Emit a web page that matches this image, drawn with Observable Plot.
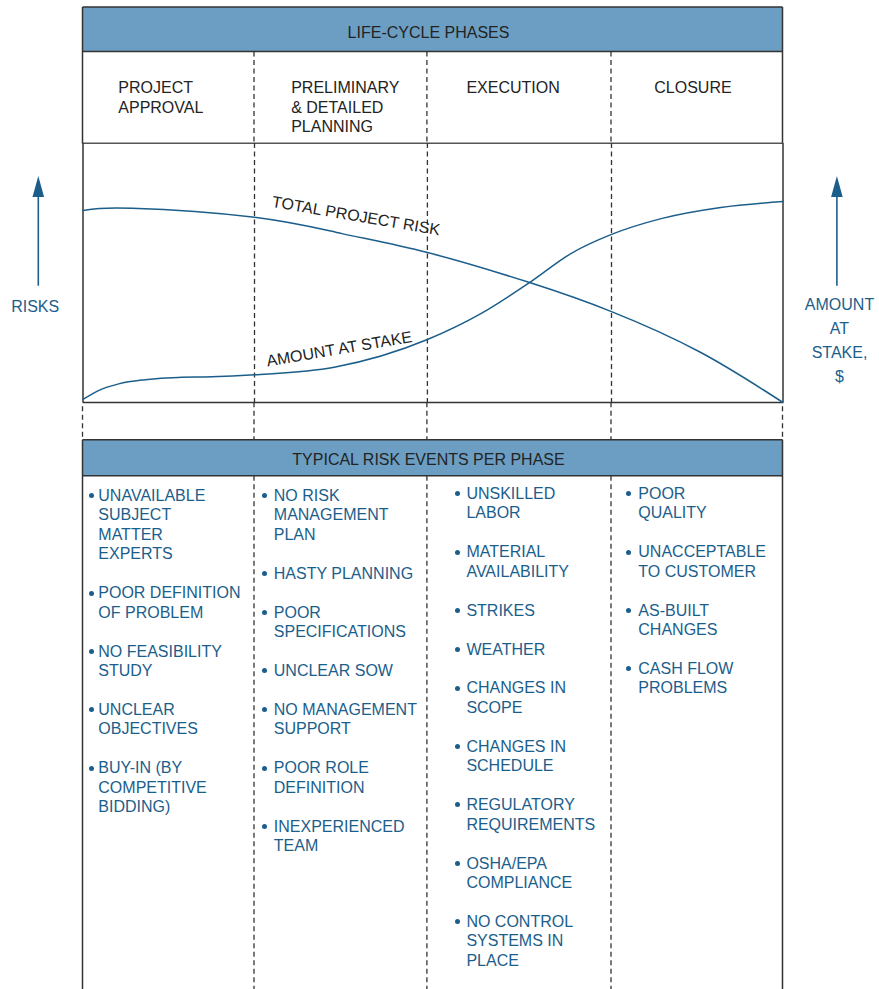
<!DOCTYPE html>
<html><head><meta charset="utf-8">
<script src="https://cdn.jsdelivr.net/npm/d3@7"></script>
<script src="https://cdn.jsdelivr.net/npm/@observablehq/plot@0.6"></script>
<style>
body{margin:0;background:#fff;}
#fig{position:relative;width:879px;height:989px;overflow:hidden;font-family:"Liberation Sans",Arial,sans-serif;}
.t{position:absolute;white-space:pre;font-size:16px;}
</style></head><body><div id="fig"></div>
<script>
// ---------- data ----------
const headerTitle = "LIFE-CYCLE PHASES";
const eventsTitle = "TYPICAL RISK EVENTS PER PHASE";
const phaseNames = ["PROJECT\nAPPROVAL", "PRELIMINARY\n& DETAILED\nPLANNING", "EXECUTION", "CLOSURE"];
const phaseBounds = [0, 24.5, 49.2, 75.5, 100]; // % of project life

const riskProgress = [0, 7, 24.5, 37, 49.2, 63.8, 75.5, 88.2, 100];
const totalRisk    = [74.1, 75.0, 71.5, 65.2, 57.9, 46.3, 35.1, 19.4, 0];
const stakeProgress = [0, 2.2, 5.1, 8.9, 13.6, 18.4, 24.5, 35.9, 49.2, 56.9, 63.8, 69.7, 75.5, 82.6, 91.1, 100];
const amountAtStake = [1.2, 4.6, 7.2, 8.8, 9.7, 9.9, 10.7, 13.6, 24.3, 34.4, 46.3, 57.5, 64.9, 71.0, 75.3, 77.6];

const curveLabelText = ["TOTAL PROJECT RISK", "AMOUNT AT STAKE"];
const curveLabelX = [39, 36.6];
const curveLabelY = [72.0, 20.6];

const leftAxisLabel = "RISKS";
const rightAxisLabel = "AMOUNT\nAT\nSTAKE,\n$";

const approvalEvents = ["UNAVAILABLE\nSUBJECT\nMATTER\nEXPERTS", "POOR DEFINITION\nOF PROBLEM", "NO FEASIBILITY\nSTUDY", "UNCLEAR\nOBJECTIVES", "BUY-IN (BY\nCOMPETITIVE\nBIDDING)"];
const planningEvents = ["NO RISK\nMANAGEMENT\nPLAN", "HASTY PLANNING", "POOR\nSPECIFICATIONS", "UNCLEAR SOW", "NO MANAGEMENT\nSUPPORT", "POOR ROLE\nDEFINITION", "INEXPERIENCED\nTEAM"];
const executionEvents = ["UNSKILLED\nLABOR", "MATERIAL\nAVAILABILITY", "STRIKES", "WEATHER", "CHANGES IN\nSCOPE", "CHANGES IN\nSCHEDULE", "REGULATORY\nREQUIREMENTS", "OSHA/EPA\nCOMPLIANCE", "NO CONTROL\nSYSTEMS IN\nPLACE"];
const closureEvents = ["POOR\nQUALITY", "UNACCEPTABLE\nTO CUSTOMER", "AS-BUILT\nCHANGES", "CASH FLOW\nPROBLEMS"];
const phaseEvents = [approvalEvents, planningEvents, executionEvents, closureEvents];

// ---------- layout / style ----------
const FONT = '"Liberation Sans", Arial, sans-serif';
const BAND = "#6b9ec2", LINE = "#333", BLUE = "#1b5e8b", DARK = "#232323";
const X0 = 82.5, W = 700;
const px = p => X0 + W * p / 100;
const yTop = 7, yBand1 = 51.5, yPhase = 143.3, yCurve = 402.3, yB2a = 439.7, yB2b = 475.7, yEnd = 989;
const titleInset = [35.8, 37.2, 39.5, 43.3];
const listInset = [15.8, 19.8, 39.5, 27.3];
const bulletGap = [7.3, 9.3, 9.4, 10];
const listTop = [486, 486, 484, 484];
const LH = 19.45;

const fig = document.getElementById("fig");

// background structure
const svg = d3.select(fig).append("svg").attr("width", 879).attr("height", 989)
  .style("position", "absolute").style("left", 0).style("top", 0);
svg.append("rect").attr("x", X0).attr("y", yTop).attr("width", W).attr("height", yBand1 - yTop).attr("fill", BAND);
svg.append("rect").attr("x", X0).attr("y", yB2a).attr("width", W).attr("height", yB2b - yB2a).attr("fill", BAND);
function hline(y, c = LINE, w = 1.5) {
  svg.append("line").attr("x1", X0).attr("x2", X0 + W).attr("y1", y).attr("y2", y).attr("stroke", c).attr("stroke-width", w);
}
function vline(x, y1, y2, dashed) {
  const l = svg.append("line").attr("x1", x).attr("x2", x).attr("y1", y1).attr("y2", y2).attr("stroke", LINE)
    .attr("stroke-width", dashed ? 1.3 : 1.5);
  if (dashed) l.attr("stroke-dasharray", "5,3.5");
}
hline(yTop); hline(yBand1); hline(yPhase, "#555"); hline(yB2a); hline(yB2b);
phaseBounds.forEach((b, i) => {
  const x = px(b);
  if (i === 0 || i === phaseBounds.length - 1) {
    vline(x, yTop, yPhase, false);
    vline(x, yCurve + 4, yB2a, true);
    vline(x, yB2a, yEnd, false);
  } else {
    vline(x, yBand1, yPhase, true);
    vline(x, yCurve, yB2a, true);
    vline(x, yB2b, yEnd, true);
  }
});
// arrows
[[38.3, 176, 285.7], [836.9, 176, 285.7]].forEach(([x, tip, bot]) => {
  svg.append("line").attr("x1", x).attr("x2", x).attr("y1", tip + 15).attr("y2", bot).attr("stroke", BLUE).attr("stroke-width", 1.6);
  svg.append("path").attr("d", `M${x},${tip} L${x - 5.8},${tip + 21} L${x + 5.8},${tip + 21} Z`).attr("fill", BLUE);
});

// curves with Plot
const riskData = riskProgress.map((x, i) => ({x, y: totalRisk[i]}));
const stakeData = stakeProgress.map((x, i) => ({x, y: amountAtStake[i]}));
const labels = curveLabelText.map((text, i) => ({text, x: curveLabelX[i], y: curveLabelY[i]}));
const labelRotate = [9.7, -9.6];
const chart = Plot.plot({
  width: 879, height: yCurve - yPhase,
  marginLeft: X0, marginRight: 879 - X0 - W, marginTop: 0, marginBottom: 0,
  x: {domain: [0, 100], axis: null},
  y: {domain: [0, 100], axis: null},
  style: {background: "transparent", overflow: "visible", fontFamily: FONT},
  marks: [
    Plot.ruleX(phaseBounds.slice(1, -1), {stroke: LINE, strokeWidth: 1.3, strokeDasharray: "5,3.5"}),
    Plot.ruleX([phaseBounds[0], phaseBounds[phaseBounds.length - 1]], {stroke: LINE, strokeWidth: 1.5}),
    Plot.ruleY([0], {stroke: LINE, strokeWidth: 1.5}),
    Plot.line(riskData, {x: "x", y: "y", curve: "natural", stroke: BLUE, strokeWidth: 1.5}),
    Plot.line(stakeData, {x: "x", y: "y", curve: "monotone-x", stroke: BLUE, strokeWidth: 1.5}),
    Plot.text(labels, {x: "x", y: "y", text: "text", rotate: (d, i) => labelRotate[i], fontSize: 16, fill: DARK})
  ]
});
chart.style.position = "absolute"; chart.style.left = "0px"; chart.style.top = yPhase + "px";
fig.appendChild(chart);

// texts
function addText(txt, left, top, {lh = 19.5, color = DARK, center = false} = {}) {
  const d = document.createElement("div");
  d.className = "t"; d.textContent = txt;
  d.style.left = left + "px"; d.style.top = top + "px"; d.style.lineHeight = lh + "px"; d.style.color = color;
  if (center) { d.style.transform = "translateX(-50%)"; d.style.textAlign = "center"; }
  fig.appendChild(d); return d;
}
addText(headerTitle, 428.5, 23.2, {lh: 20, center: true});
addText(eventsTitle, 428.5, 450, {lh: 20, center: true});
phaseNames.forEach((n, i) => addText(n, px(phaseBounds[i]) + titleInset[i], 78.3));
addText(leftAxisLabel, 35.2, 296.7, {lh: 20, color: BLUE, center: true});
addText(rightAxisLabel, 839.5, 293, {lh: 24, color: BLUE, center: true});

phaseEvents.forEach((items, c) => {
  const left = px(phaseBounds[c]) + listInset[c];
  const col = document.createElement("div");
  col.style.position = "absolute"; col.style.left = left + "px"; col.style.top = listTop[c] + "px";
  items.forEach(it => {
    const d = document.createElement("div");
    d.style.position = "relative"; d.style.whiteSpace = "pre"; d.style.fontSize = "16px";
    d.style.lineHeight = LH + "px"; d.style.color = BLUE; d.style.marginBottom = LH + "px";
    d.textContent = it;
    const b = document.createElement("span");
    b.style.position = "absolute"; b.style.width = "5px"; b.style.height = "5px"; b.style.borderRadius = "50%";
    b.style.background = BLUE; b.style.left = (-bulletGap[c] - 2.5) + "px"; b.style.top = (9.8 - 2.5) + "px";
    d.appendChild(b);
    col.appendChild(d);
  });
  fig.appendChild(col);
});
</script></body></html>
